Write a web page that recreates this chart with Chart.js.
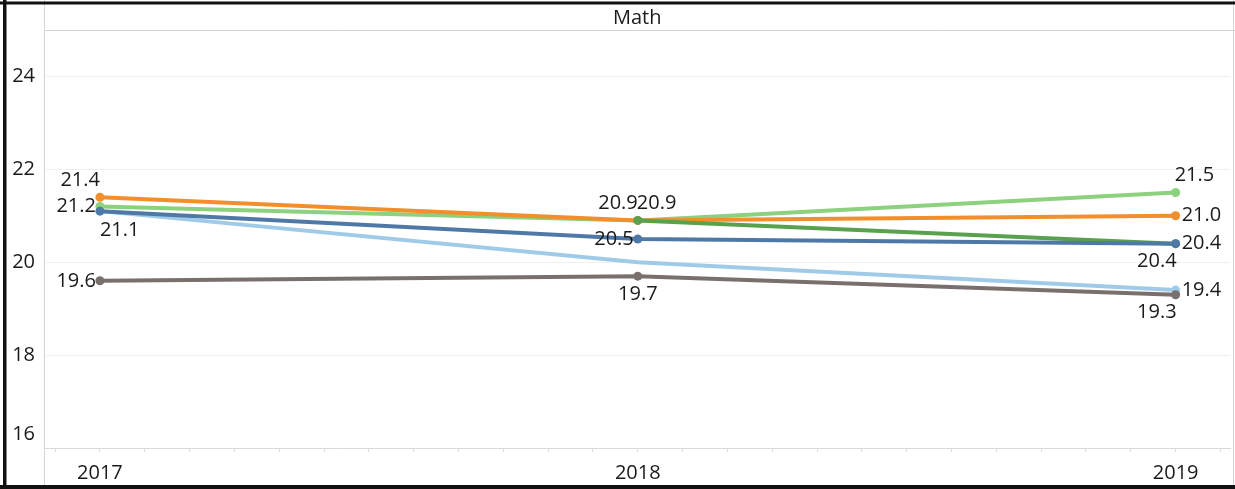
<!DOCTYPE html>
<html>
<head>
<meta charset="utf-8">
<script src="https://cdn.jsdelivr.net/npm/chart.js@4"></script>
<style>
  html, body { margin: 0; padding: 0; background: #fff; }
  canvas { display: block; }
</style>
</head>
<body>
<canvas id="mathChart" width="1235" height="489"></canvas>
<script>
// ---- data ----
const years = [2017, 2018, 2019];
const yTicks = [16, 18, 20, 22, 24];
const chartTitle = 'Math';

const orangeVals     = [21.4, 20.9, 21.0];
const lightGreenVals = [21.2, 20.9, 21.5];
const darkBlueVals   = [21.1, 20.5, 20.4];
const lightBlueVals  = [21.1, 20.0, 19.4];
const grayVals       = [19.6, 19.7, 19.3];
const darkGreenVals  = [null, 20.9, 20.4];

// where each value label sits (null = not labelled in the original)
const orangeLabelPos     = ['aboveLeft', 'aboveLeft', 'right'];
const lightGreenLabelPos = ['left', null, 'aboveRight'];
const darkBlueLabelPos   = ['belowRight', 'left', 'right'];
const lightBlueLabelPos  = [null, null, 'right'];
const grayLabelPos       = ['left', 'below', 'belowLeft'];
const darkGreenLabelPos  = [null, 'aboveRight', 'belowLeft'];

const FONT = '"Open Sans", sans-serif';
const TEXT = '#1a1a1a';
const LABEL_FONT = '500 20px ' + FONT;

function series(vals) {
  return years.map((yr, i) => ({ x: yr, y: vals[i] }));
}

function line(label, vals, color, labelPos) {
  return {
    label: label,
    data: series(vals),
    labelPos: labelPos,
    borderColor: color,
    backgroundColor: color,
    borderWidth: 4,
    // only labelled marks get a dot, like the original
    pointRadius: labelPos.map(p => (p ? 4.5 : 0)),
    pointHoverRadius: 4.5,
    pointBorderWidth: 0,
    tension: 0
  };
}

// draw the value labels next to the points
const valueLabels = {
  id: 'valueLabels',
  afterDatasetsDraw(chart) {
    const ctx = chart.ctx;
    ctx.save();
    ctx.font = LABEL_FONT;
    ctx.fillStyle = TEXT;
    ctx.textBaseline = 'middle';
    chart.data.datasets.forEach((ds, i) => {
      const meta = chart.getDatasetMeta(i);
      meta.data.forEach((pt, j) => {
        const pos = ds.labelPos[j];
        const v = ds.data[j].y;
        if (!pos || v == null) return;
        let x = pt.x, y = pt.y, align = 'left';
        if (pos === 'left') { x -= 4; align = 'right'; }
        else if (pos === 'right') { x += 6; }
        else if (pos === 'aboveLeft') { x += 0; y -= 17; align = 'right'; }
        else if (pos === 'aboveRight') { x -= 1; y -= 17; }
        else if (pos === 'below') { y += 18; align = 'center'; }
        else if (pos === 'belowLeft') { x += 1; y += 18; align = 'right'; }
        else if (pos === 'belowRight') { x += 0; y += 19; }
        ctx.textAlign = align;
        ctx.fillText(v.toFixed(1), x, y);
      });
    });
    ctx.restore();
  }
};

// frame, header band, title and y labels (Tableau style)
const frame = {
  id: 'frame',
  beforeDraw(chart) {
    const ctx = chart.ctx;
    ctx.save();
    ctx.fillStyle = '#fff';
    ctx.fillRect(0, 0, chart.width, chart.height);
    ctx.restore();
  },
  afterDraw(chart) {
    const ctx = chart.ctx;
    const a = chart.chartArea;
    const W = chart.width, H = chart.height;
    ctx.save();
    // header line and panel edges
    ctx.strokeStyle = '#d4d4d4';
    ctx.lineWidth = 1;
    ctx.beginPath();
    ctx.moveTo(a.left, a.top + 0.5);
    ctx.lineTo(W, a.top + 0.5);
    ctx.moveTo(a.left + 0.5, 0);
    ctx.lineTo(a.left + 0.5, H);
    ctx.moveTo(W - 1.5, 0);
    ctx.lineTo(W - 1.5, H);
    ctx.stroke();

    // title
    ctx.fillStyle = TEXT;
    ctx.font = LABEL_FONT;
    ctx.textAlign = 'center';
    ctx.textBaseline = 'middle';
    ctx.fillText(chartTitle, (a.left + a.right) / 2, 18);

    // y labels
    const ys = chart.scales.y;
    ctx.textAlign = 'right';
    yTicks.forEach(v => {
      const py = Math.min(ys.getPixelForValue(v), a.bottom - 14);
      ctx.fillText(String(v), 35, py);
    });

    // outer black frame (top, left, bottom)
    ctx.fillStyle = '#111';
    ctx.fillRect(0, 1.5, W, 3);
    ctx.fillRect(3, 0, 3.5, H);
    ctx.fillRect(0, H - 4, W, 4);
    ctx.restore();
  }
};

const ctx = document.getElementById('mathChart').getContext('2d');
new Chart(ctx, {
  type: 'line',
  data: {
    datasets: [
      line('Group 1', darkBlueVals, '#4E79A7', darkBlueLabelPos),
      line('Group 2', grayVals, '#79706E', grayLabelPos),
      line('Group 3', darkGreenVals, '#59A14F', darkGreenLabelPos),
      line('Group 4', orangeVals, '#F28E2B', orangeLabelPos),
      line('Group 5', lightGreenVals, '#8CD17D', lightGreenLabelPos),
      line('Group 6', lightBlueVals, '#A0CBE8', lightBlueLabelPos)
    ]
  },
  plugins: [frame, valueLabels],
  options: {
    responsive: false,
    animation: false,
    devicePixelRatio: 1,
    layout: { padding: { top: 30, right: 2, left: 0, bottom: 0 } },
    plugins: {
      legend: { display: false },
      tooltip: { enabled: false },
      title: { display: false }
    },
    scales: {
      x: {
        type: 'linear',
        min: 2016.896,
        max: 2019.102,
        afterFit: s => { s.height = 41; },
        afterBuildTicks: s => {
          // monthly minor ticks, year labels only
          const ticks = [];
          for (let k = -1; k <= (years[years.length - 1] - years[0]) * 12 + 1; k++) {
            ticks.push({ value: years[0] + k / 12 });
          }
          s.ticks = ticks;
        },
        ticks: {
          autoSkip: false,
          maxRotation: 0,
          padding: 9,
          color: TEXT,
          font: { family: FONT, size: 20, weight: 500 },
          callback: v => {
            const r = Math.round(v);
            return Math.abs(v - r) < 1e-6 && years.includes(r) ? String(r) : '';
          }
        },
        grid: {
          drawOnChartArea: false,
          drawTicks: true,
          tickLength: 4,
          color: '#dcdcdc'
        },
        border: { display: true, color: '#d9d9d9', width: 1 }
      },
      y: {
        min: 16,
        max: 25,
        afterFit: s => { s.width = 44; },
        afterBuildTicks: s => { s.ticks = yTicks.map(v => ({ value: v })); },
        ticks: { display: false },
        grid: { color: '#f0f0f0', drawTicks: false },
        border: { display: false }
      }
    }
  }
});
</script>
</body>
</html>
